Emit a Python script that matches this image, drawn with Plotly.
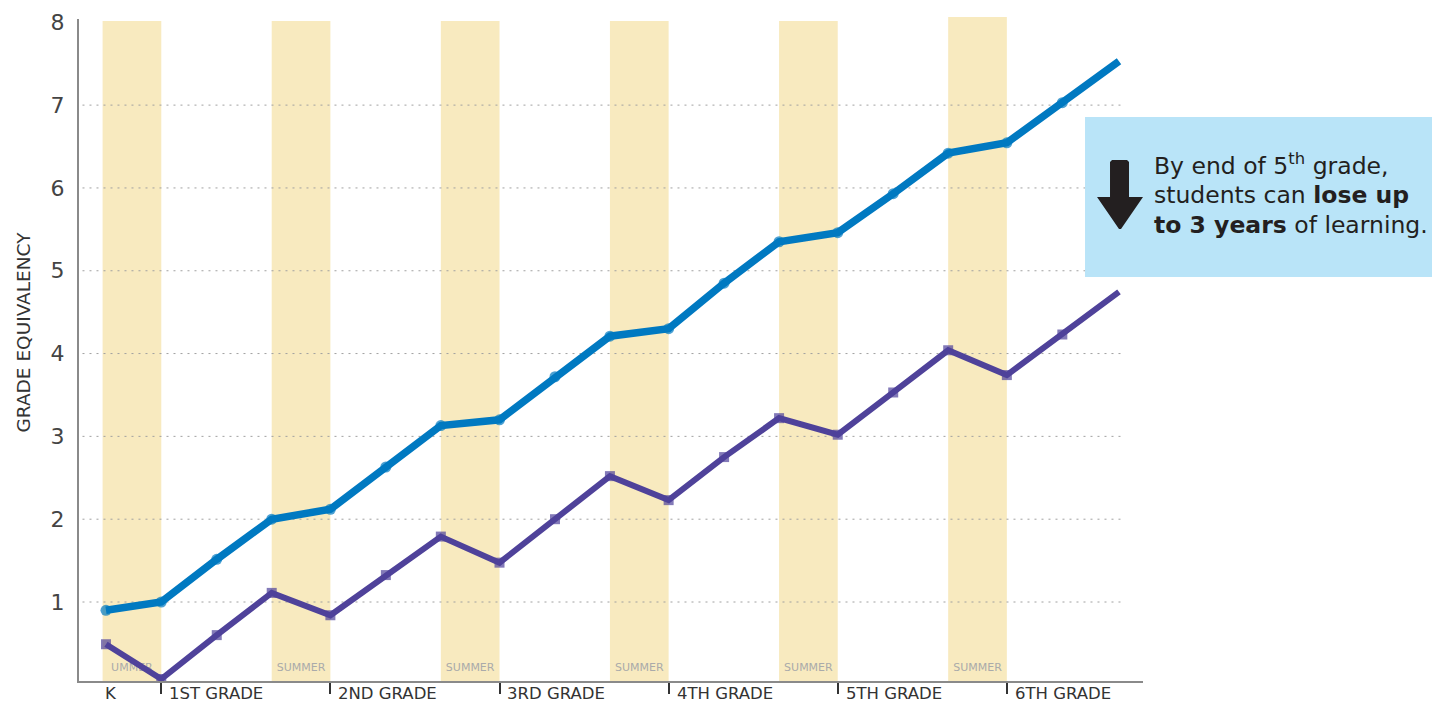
import plotly.graph_objects as go

# ---- data ----
# time in school years measured from the end of kindergarten (spring)
time_points = [0.02, 0.347, 0.675,
               1.0, 1.347, 1.675,
               2.0, 2.347, 2.675,
               3.0, 3.347, 3.675,
               4.0, 4.347, 4.675,
               5.0, 5.347, 5.675,
               6.01]
blue_values = [0.90, 1.00, 1.515, 2.00, 2.12, 2.63, 3.13, 3.20, 3.72, 4.21, 4.30,
               4.85, 5.35, 5.46, 5.93, 6.42, 6.545, 7.03, 7.53]
purple_values = [0.49, 0.07, 0.60, 1.11, 0.84, 1.325, 1.79, 1.475, 2.00, 2.52, 2.23,
                 2.75, 3.22, 3.02, 3.53, 4.04, 3.74, 4.23, 4.745]
summer_starts = [0, 1, 2, 3, 4, 5]
summer_length = 0.347
summer_labels = ["UMMER", "SUMMER", "SUMMER", "SUMMER", "SUMMER", "SUMMER"]
grade_labels = ["K", "1ST GRADE", "2ND GRADE", "3RD GRADE", "4TH GRADE", "5TH GRADE", "6TH GRADE"]
grade_label_pos = [0.005, 0.382, 1.382, 2.382, 3.382, 4.382, 5.382]
grade_tick_pos = [0.347, 1.347, 2.347, 3.347, 4.347, 5.347]
y_ticks = [1, 2, 3, 4, 5, 6, 7, 8]
callout_lines = ["By end of 5<sup>th</sup> grade,",
                 "students can <b>lose up</b>",
                 "<b>to 3 years</b> of learning."]

BLUE = "#0079c1"
PURPLE = "#4f429a"
BAND = "#f8eabf"
BOX = "#b9e4f8"
DARK = "#231f20"
FONT = "DejaVu Sans"

# page offset (browser body margin) and plot area in page pixels
OFF = 8
W, H = 1440 - OFF, 702 - OFF
L, R, T, B = 78.5, 1143, 19, 681


def px(xp):
    return (xp - L) / (R - L)


def py(yp):
    return (B - yp) / (B - T)


fig = go.Figure()

# summer labels (beneath the lines)
fig.add_trace(go.Scatter(
    x=[s + summer_length / 2 for s in summer_starts], y=[0.2] * len(summer_starts),
    mode="text", text=summer_labels, textposition="middle center",
    textfont=dict(family=FONT, size=11, color="#aaaaaa"),
    hoverinfo="skip", showlegend=False))

fig.add_trace(go.Scatter(
    x=time_points, y=blue_values, mode="lines+markers",
    line=dict(color=BLUE, width=7.5),
    marker=dict(color=BLUE, size=[11] * (len(time_points) - 1) + [0], symbol="circle",
                line=dict(width=0)),
    showlegend=False))
fig.add_trace(go.Scatter(
    x=time_points, y=purple_values, mode="lines+markers",
    line=dict(color=PURPLE, width=6),
    marker=dict(color=PURPLE, size=[10] * (len(time_points) - 1) + [0], symbol="square",
                line=dict(width=0)),
    showlegend=False))

shapes = []
for i, s in enumerate(summer_starts):
    top = py(17) if i == len(summer_starts) - 1 else py(21)
    shapes.append(dict(type="rect", xref="x", yref="paper", x0=s, x1=s + summer_length,
                       y0=0, y1=top, fillcolor=BAND, line=dict(width=0), layer="below"))
for v in y_ticks[:-1]:
    shapes.append(dict(type="line", xref="paper", yref="y", x0=px(82), x1=px(1124), y0=v, y1=v,
                       line=dict(color="#a0a0a0", width=1, dash="2px,5px"), layer="below"))

# callout box
shapes.append(dict(type="rect", xref="paper", yref="paper", x0=px(1085), x1=px(1445),
                   y0=py(277), y1=py(117), fillcolor=BOX, line=dict(width=0), layer="above"))
# arrow
pts = [(1110, 162), (1112, 160), (1127, 160), (1129, 162), (1129, 197), (1143, 197),
       (1121, 229), (1119, 229), (1097, 197), (1110, 197)]
path = "M " + " L ".join(f"{px(a):.5f},{py(b):.5f}" for a, b in pts) + " Z"
shapes.append(dict(type="path", xref="paper", yref="paper", path=path,
                   fillcolor=DARK, line=dict(width=0), layer="above"))

annotations = []
for lab, pos in zip(grade_labels, grade_label_pos):
    annotations.append(dict(x=pos, y=py(694), xref="x", yref="paper", text=lab,
                            showarrow=False, xanchor="left", yanchor="middle",
                            font=dict(family=FONT, size=16.5, color="#333333")))
for line_text, yc in zip(callout_lines, [164, 195, 225]):
    annotations.append(dict(x=px(1152), y=py(yc), xref="paper", yref="paper",
                            text=line_text, showarrow=False, xanchor="left",
                            yanchor="middle", align="left",
                            font=dict(family=FONT, size=23.5, color=DARK)))
annotations.append(dict(x=px(22), y=py(332), xref="paper", yref="paper",
                        text="GRADE EQUIVALENCY", textangle=-90, showarrow=False,
                        xanchor="center", yanchor="middle",
                        font=dict(family=FONT, size=18.5, color="#333333")))

fig.update_layout(
    width=W, height=H,
    margin=dict(l=L - OFF, r=1440 - R, t=T - OFF, b=702 - B, pad=0),
    plot_bgcolor="rgba(0,0,0,0)", paper_bgcolor="white",
    shapes=shapes, annotations=annotations,
    xaxis=dict(range=[-0.1395, 6.152], showgrid=False, zeroline=False, automargin=False,
               showline=True, linecolor="#8a8a8a", linewidth=2,
               tickvals=grade_tick_pos, showticklabels=False,
               ticks="outside", ticklen=11, tickwidth=2, tickcolor="#333333"),
    yaxis=dict(range=[0.046, 8.04], showgrid=False, zeroline=False, automargin=False,
               showline=True, linecolor="#8a8a8a", linewidth=2,
               tickvals=y_ticks, ticks="", ticklabelstandoff=8,
               tickfont=dict(family=FONT, size=22, color="#444444")),
)

fig.write_html("out.html")
